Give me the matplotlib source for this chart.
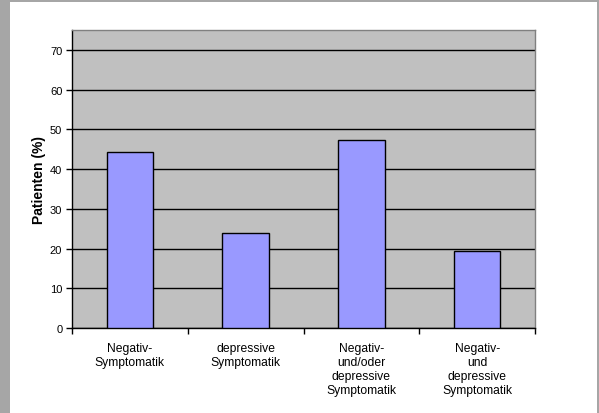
import matplotlib
matplotlib.use('Agg')
import matplotlib.pyplot as plt
from matplotlib.patches import Rectangle

# share of patients per symptom group
categories = ['Negativ-\nSymptomatik', 'depressive\nSymptomatik',
              'Negativ-\nund/oder\ndepressive\nSymptomatik',
              'Negativ-\nund\ndepressive\nSymptomatik']
patients = [44.2, 23.8, 47.2, 19.4]
yticks = [0, 10, 20, 30, 40, 50, 60, 70]

plt.rcParams['font.family'] = ['Liberation Sans', 'DejaVu Sans']

fig = plt.figure(figsize=(5.99, 4.14), dpi=100)
fig.patch.set_facecolor('white')

# grey frame round the page
fig.patches.append(Rectangle((0, 0), 10 / 599, 1, transform=fig.transFigure,
                             facecolor='#a6a6a6', edgecolor='none', zorder=0))
fig.patches.append(Rectangle((0, 1 - 3 / 414), 1, 3 / 414, transform=fig.transFigure,
                             facecolor='#a6a6a6', edgecolor='none', zorder=0))
fig.patches.append(Rectangle((1 - 2 / 599, 0), 2 / 599, 1, transform=fig.transFigure,
                             facecolor='#a6a6a6', edgecolor='none', zorder=0))

ax = fig.add_axes([72 / 599, 1 - 329 / 414, 463 / 599, 298 / 414])
ax.set_facecolor('#c0c0c0')

x = range(len(categories))
ax.bar(x, patients, width=0.4, color='#9999ff', edgecolor='black', linewidth=1, zorder=3)

ax.set_xlim(-0.5, len(categories) - 0.5)
ax.set_ylim(0, 75)
ax.set_yticks(yticks)
ax.yaxis.grid(True, color='black', linewidth=1)
ax.set_axisbelow(True)

# category labels centred, ticks on the borders between categories
ax.set_xticks([i + 0.5 for i in range(-1, len(categories))])
ax.set_xticklabels([])
ax.set_xticks(list(x), minor=True)
ax.set_xticklabels(categories, minor=True, fontsize=8.7, linespacing=1.24)
ax.tick_params(axis='x', which='minor', length=0, pad=10)
ax.tick_params(axis='x', which='major', length=4, width=1, direction='out')
ax.tick_params(axis='y', length=4, width=1, direction='out', labelsize=8, pad=3)

ax.spines['left'].set_color('black')
ax.spines['bottom'].set_color('black')
ax.spines['top'].set_color('#808080')
ax.spines['right'].set_color('#808080')
for s in ax.spines.values():
    s.set_linewidth(1)

ax.set_ylabel('Patienten (%)', fontsize=10, fontweight='bold', labelpad=3)

fig.savefig('out.png', dpi=100)
